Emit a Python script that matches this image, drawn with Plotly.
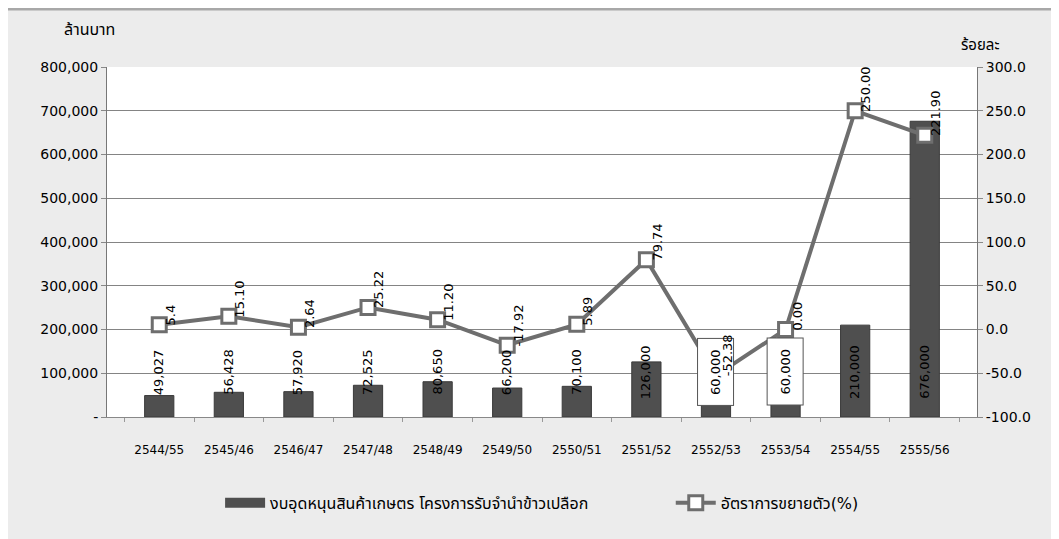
import plotly.graph_objects as go

categories = ['2544/55', '2545/46', '2546/47', '2547/48', '2548/49', '2549/50',
              '2550/51', '2551/52', '2552/53', '2553/54', '2554/55', '2555/56']
budget = [49027, 56428, 57920, 72525, 80650, 66200, 70100, 126000, 60000, 60000, 210000, 676000]
growth = [5.4, 15.10, 2.64, 25.22, 11.20, -17.92, 5.89, 79.74, -52.38, 0.00, 250.00, 221.90]
growth_labels = ['5.4', '15.10', '2.64', '25.22', '11.20', '-17.92', '5.89', '79.74',
                 '-52.38', '0.00', '250.00', '221.90']
boxed_labels = ['2552/53', '2553/54']
left_ticks = [0, 100000, 200000, 300000, 400000, 500000, 600000, 700000, 800000]
left_ticktext = ['-', '100,000', '200,000', '300,000', '400,000', '500,000', '600,000', '700,000', '800,000']
right_ticks = [-100, -50, 0, 50, 100, 150, 200, 250, 300]

bar_name = 'งบอุดหนุนสินค้าเกษตร โครงการรับจำนำข้าวเปลือก'
line_name = 'อัตราการขยายตัว(%)'

FONT = 'DejaVu Sans, Noto Sans Thai, Tahoma, sans-serif'
BAR_COLOR = '#4f4f4f'
LINE_COLOR = '#6e6e6e'

fig = go.Figure()
fig.add_trace(go.Bar(
    x=categories, y=budget, name=bar_name, showlegend=False,
    marker=dict(color=BAR_COLOR, line=dict(color='#3a3a3a', width=1)),
    yaxis='y',
))
# legend proxy for the bar series (wide rectangular swatch)
fig.add_trace(go.Scatter(
    x=[None], y=[None], name=bar_name, mode='lines',
    line=dict(color=BAR_COLOR, width=10), yaxis='y', legend='legend',
))
fig.add_trace(go.Scatter(
    x=categories, y=growth, name=line_name, yaxis='y2', legend='legend2',
    mode='lines+markers',
    line=dict(color=LINE_COLOR, width=4),
    marker=dict(symbol='square', size=14, color='white', line=dict(color=LINE_COLOR, width=3)),
))

annotations = []
for c, v in zip(categories, budget):
    boxed = c in boxed_labels
    annotations.append(dict(
        x=c, y=103000, xref='x', yref='y', text=f'{v:,}', showarrow=False,
        textangle=-90, font=dict(family=FONT, size=13, color='black'),
        xanchor='center', yanchor='middle',
        bgcolor='white' if boxed else None,
        bordercolor='#555555' if boxed else None,
        borderwidth=1 if boxed else 0,
        borderpad=10 if boxed else 0,
    ))
for c, g, t in zip(categories, growth, growth_labels):
    annotations.append(dict(
        x=c, y=g, xref='x', yref='y2', text=t, showarrow=False,
        textangle=-90, font=dict(family=FONT, size=13, color='black'),
        xanchor='center', yanchor='bottom', xshift=11, yshift=-3,
    ))
annotations.append(dict(x=-0.02, y=1.108, xref='paper', yref='paper', text='ล้านบาท',
                        showarrow=False, font=dict(family=FONT, size=16, color='black'),
                        xanchor='center', yanchor='middle'))
annotations.append(dict(x=1.004, y=1.063, xref='paper', yref='paper', text='ร้อยละ',
                        showarrow=False, font=dict(family=FONT, size=15, color='black'),
                        xanchor='center', yanchor='middle'))

shapes = [
    dict(type='line', xref='paper', yref='paper', x0=-0.2, x1=1.2, y0=1.166, y1=1.166,
         line=dict(color='#a8a8a8', width=3), layer='below'),
]

legend_common = dict(orientation='h', y=-0.245, xanchor='left', yanchor='middle',
                     font=dict(family=FONT, size=16, color='black'),
                     bgcolor='rgba(0,0,0,0)', itemwidth=40)

fig.update_layout(
    width=1051, height=531,
    margin=dict(l=99, r=82, t=59, b=122),
    paper_bgcolor='#ececec', plot_bgcolor='white',
    bargap=0.58,
    font=dict(family=FONT, size=13, color='black'),
    showlegend=True,
    legend=dict(x=0.13, **legend_common),
    legend2=dict(x=0.648, **legend_common),
    xaxis=dict(showline=True, linecolor='#888888', ticks='outside', tickson='boundaries',
               ticklen=4, tickcolor='#999999', tickfont=dict(size=12),
               ticklabelstandoff=22, showgrid=False),
    yaxis=dict(range=[0, 800000], tickvals=left_ticks, ticktext=left_ticktext,
               showgrid=True, gridcolor='#848484', gridwidth=1,
               showline=True, linecolor='#777777', ticks='outside', ticklen=5,
               tickcolor='#888888', tickfont=dict(size=14), zeroline=False),
    yaxis2=dict(range=[-100, 300], tickvals=right_ticks,
                ticktext=[f'{v:.1f}' for v in right_ticks],
                overlaying='y', side='right', showgrid=False, zeroline=False,
                showline=True, linecolor='#777777', ticks='outside', ticklen=5,
                tickcolor='#888888', tickfont=dict(size=14)),
    annotations=annotations,
    shapes=shapes,
)

fig.write_html('out.html')
